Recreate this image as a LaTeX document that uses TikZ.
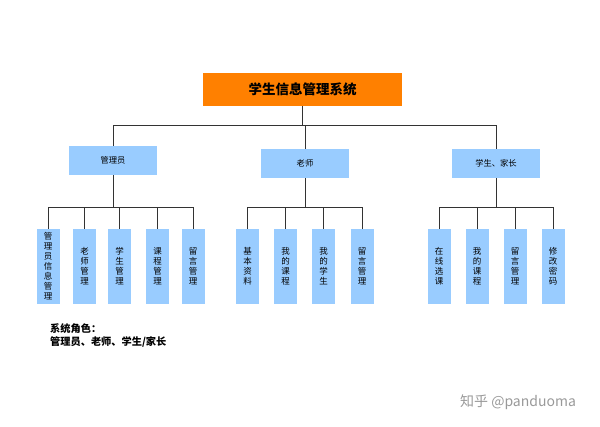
\documentclass[tikz,border=0pt]{standalone}
\usepackage{fontspec}
\setmainfont{Noto Sans CJK SC}
\definecolor{sysorange}{HTML}{FF8000}
\definecolor{boxblue}{HTML}{99CCFF}
\definecolor{linegray}{HTML}{333333}
\begin{document}
\begin{tikzpicture}[x=1pt,y=-1pt,
    sysbox/.style={fill=sysorange,minimum width=199pt,minimum height=33pt,inner sep=0pt,font=\fontsize{13.5}{15}\selectfont\bfseries},
    rolebox/.style={fill=boxblue,minimum width=88pt,minimum height=29pt,inner sep=0pt,font=\fontsize{8.3}{10}\selectfont},
    leafbox/.style={fill=boxblue,minimum width=23pt,minimum height=75pt,inner sep=0pt,align=center,font=\fontsize{8.5}{10}\selectfont}]
  \useasboundingbox (0,0) rectangle (600,427);
  \draw
    (302.5,89.5) node[sysbox] (sys){学生信息管理系统}
    (113,160.5) node[rolebox] (admin){管理员}
    (305,163.5) node[rolebox] (teacher){老师}
    (496,163.5) node[rolebox] (student){学生、家长};
  \draw
    (48,266.5) node[leafbox] (a1){管\\理\\员\\信\\息\\管\\理}
    (84.5,266.5) node[leafbox] (a2){老\\师\\管\\理}
    (119.5,266.5) node[leafbox] (a3){学\\生\\管\\理}
    (157.5,266.5) node[leafbox] (a4){课\\程\\管\\理}
    (193,266.5) node[leafbox] (a5){留\\言\\管\\理}
    (247.5,266.5) node[leafbox] (t1){基\\本\\资\\料}
    (285.5,266.5) node[leafbox] (t2){我\\的\\课\\程}
    (323.5,266.5) node[leafbox] (t3){我\\的\\学\\生}
    (362,266.5) node[leafbox] (t4){留\\言\\管\\理}
    (439,266.5) node[leafbox] (s1){在\\线\\选\\课}
    (477,266.5) node[leafbox] (s2){我\\的\\课\\程}
    (515,266.5) node[leafbox] (s3){留\\言\\管\\理}
    (553,266.5) node[leafbox] (s4){修\\改\\密\\码};
  \coordinate (sysbus) at (302.5,126);
  \coordinate (adminbus) at (113,208);
  \coordinate (teacherbus) at (305,208);
  \coordinate (studentbus) at (496,208);
  \begin{scope}[draw=linegray,line width=1pt]
    \draw (sys) -- (sysbus);
    \draw (sysbus) -| (admin);
    \draw (sysbus) -| (teacher);
    \draw (sysbus) -| (student);
    \draw (admin) -- (adminbus);
    \draw (adminbus) -| (a1);
    \draw (adminbus) -| (a2);
    \draw (adminbus) -| (a3);
    \draw (adminbus) -| (a4);
    \draw (adminbus) -| (a5);
    \draw (teacher) -- (teacherbus);
    \draw (teacherbus) -| (t1);
    \draw (teacherbus) -| (t2);
    \draw (teacherbus) -| (t3);
    \draw (teacherbus) -| (t4);
    \draw (student) -- (studentbus);
    \draw (studentbus) -| (s1);
    \draw (studentbus) -| (s2);
    \draw (studentbus) -| (s3);
    \draw (studentbus) -| (s4);
  \end{scope}
  \node[anchor=north west,align=left,inner sep=0pt,font=\fontsize{10.2}{13}\selectfont\bfseries] (roles) at (50,323) {系统角色：\\管理员、老师、学生/家长};
  \node[text=black!40,font=\fontsize{14}{16}\selectfont] (mark) at (518,402) {知乎 @panduoma};
\end{tikzpicture}
\end{document}
